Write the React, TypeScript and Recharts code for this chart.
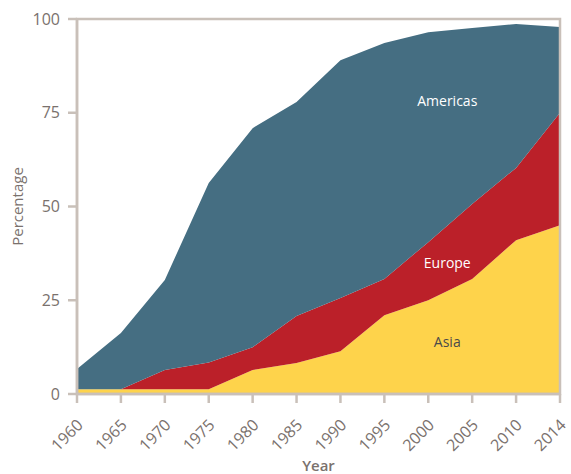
import React from 'react'
import {
  AreaChart,
  Area,
  XAxis,
  YAxis,
  ReferenceDot,
  ReferenceArea,
  Label
} from 'recharts'

const years = ['1960', '1965', '1970', '1975', '1980', '1985', '1990', '1995', '2000', '2005', '2010', '2014']
const asia = [1.3, 1.3, 1.3, 1.3, 6.4, 8.3, 11.4, 21, 25, 30.7, 41, 45]
const europe = [0, 0, 5.1, 7.1, 6.1, 12.5, 14.2, 9.7, 15.5, 20, 19.3, 30]
const americas = [5.4, 15, 24, 47.9, 58.4, 57.1, 63.4, 62.9, 56, 46.9, 38.4, 22.9]
const yTicks = [0, 25, 50, 75, 100]

const data = years.map((year, i) => ({
  year,
  Asia: asia[i],
  Europe: europe[i],
  Americas: americas[i]
}))

const FONT = '"Open Sans", sans-serif'
const AXIS = '#c9c0b9'
const TEXT = '#7a716d'

const areaLabel = (text: string, color: string) => (props: any) => {
  const { viewBox } = props
  return (
    <text
      x={viewBox.x + 19}
      y={viewBox.y}
      textAnchor="middle"
      dominantBaseline="central"
      fill={color}
      fontFamily={FONT}
      fontSize={14}
    >
      {text}
    </text>
  )
}

// rotated year label, its baseline ends a little right of and below the tick
const renderYearTick = (props: any) => {
  const { x, payload } = props
  return (
    <g key={payload.value} transform={`translate(${x + 7},426)`}>
      <text x={0} y={0} textAnchor="end" transform="rotate(-45)" fill={TEXT} fontSize={16} fontFamily={FONT}>
        {payload.value}
      </text>
    </g>
  )
}

export default function App() {
  return (
    <div style={{ position: 'absolute', left: 0, top: 0, background: '#fff' }}>
      <AreaChart
        width={571}
        height={474}
        data={data}
        margin={{ top: 19, right: 11, left: 0, bottom: 0 }}
      >
        <XAxis
          dataKey="year"
          stroke={AXIS}
          strokeWidth={2.5}
          tickSize={9}
          height={80}
          interval={0}
          tick={renderYearTick}
        >
          <Label
            value="Year"
            position="insideBottom"
            offset={3}
            fill={TEXT}
            fontSize={15}
            fontWeight={600}
            fontFamily={FONT}
          />
        </XAxis>
        <YAxis
          domain={[0, 100]}
          ticks={yTicks}
          width={77}
          stroke={AXIS}
          strokeWidth={2.5}
          tickSize={9}
          tickMargin={8}
          tick={{ fill: TEXT, fontSize: 16, fontFamily: FONT }}
        >
          <Label
            value="Percentage"
            angle={-90}
            position="insideLeft"
            offset={18}
            fill={TEXT}
            fontSize={15}
            fontFamily={FONT}
            style={{ textAnchor: 'middle' }}
          />
        </YAxis>
        <Area type="linear" dataKey="Asia" stackId="a" stroke="none" fill="#fed34b" fillOpacity={1} isAnimationActive={false} />
        <Area type="linear" dataKey="Europe" stackId="a" stroke="none" fill="#bb2029" fillOpacity={1} isAnimationActive={false} />
        <Area type="linear" dataKey="Americas" stackId="a" stroke="none" fill="#456e82" fillOpacity={1} isAnimationActive={false} />
        <ReferenceArea x1="1960" x2="2014" y1={0} y2={100} fill="none" fillOpacity={0} stroke={AXIS} strokeWidth={2.5} strokeOpacity={1} />
        <ReferenceDot x="2000" y={78.4} r={0} stroke="none" label={areaLabel('Americas', '#ffffff')} />
        <ReferenceDot x="2000" y={35.2} r={0} stroke="none" label={areaLabel('Europe', '#ffffff')} />
        <ReferenceDot x="2000" y={14.1} r={0} stroke="none" label={areaLabel('Asia', '#4a4a4a')} />
      </AreaChart>
    </div>
  )
}
